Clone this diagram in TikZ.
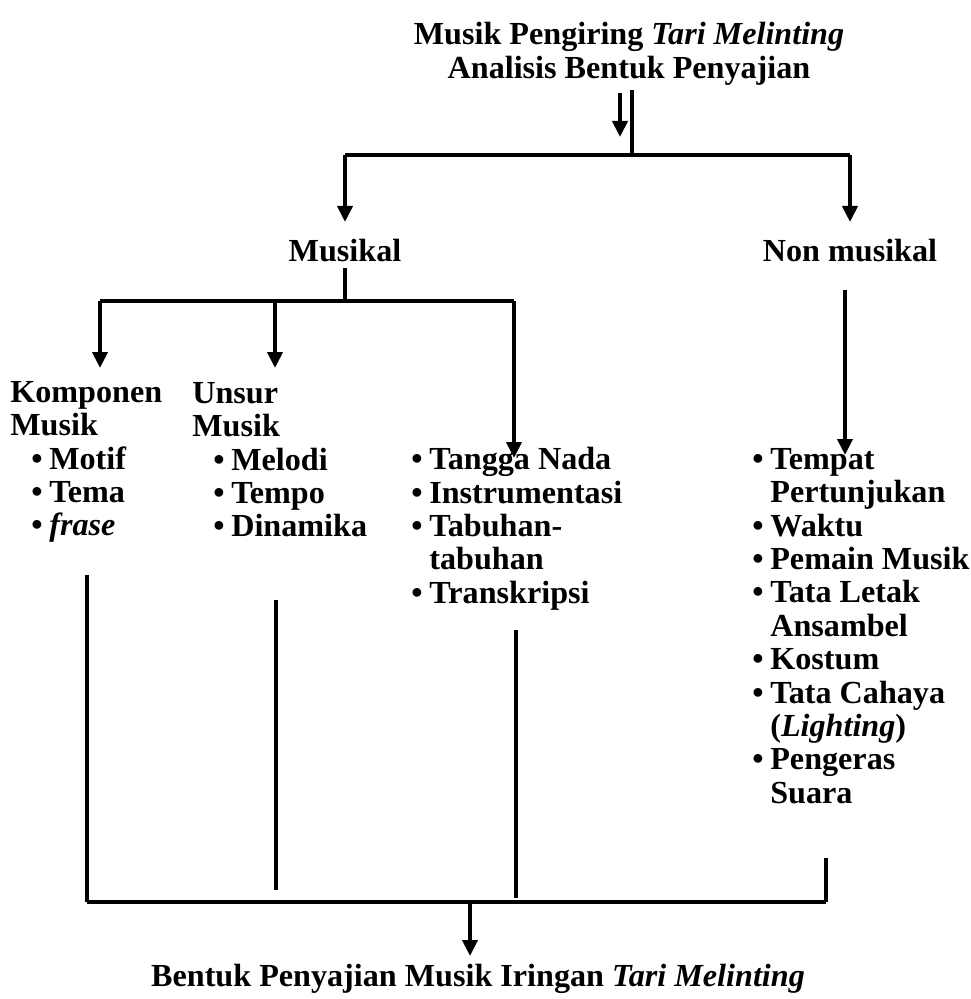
\documentclass[tikz,border=0pt]{standalone}
\usepackage{fontspec}
\setmainfont{Liberation Serif}
\usetikzlibrary{arrows.meta}

\newcommand{\butir}{\makebox[0.36cm][l]{\textbullet}}
\newcommand{\sambung}{\hspace*{0.36cm}}
\newcommand{\masuk}{\hspace*{0.42cm}}

\tikzset{
  teks/.style={inner sep=0pt, font=\fontsize{18.3}{19}\selectfont\bfseries, align=left},
  garis/.style={line width=2.2pt},
  panah/.style={garis, -{Triangle[length=0.32cm, width=0.3cm]}},
}

\begin{document}
\begin{tikzpicture}[x=0.02cm, y=-0.02cm]
  \useasboundingbox (0,0) rectangle (970,999);

  % Judul dan dua cabang utama
  \node[teks, align=center, anchor=north] (judul) at (629,22)
    {Musik Pengiring \textit{Tari Melinting}\\Analisis Bentuk Penyajian};
  \node[teks, anchor=base] (musikal) at (345,262) {Musikal};
  \node[teks, anchor=base] (nonmusikal) at (850,262) {Non musikal};

  % Kolom-kolom isi
  \node[teks, anchor=north west] (komponen) at (10,381)
    {Komponen\\Musik\\\masuk\butir Motif\\\masuk\butir Tema\\\masuk\butir\textit{frase}};
  \node[teks, anchor=north west] (unsur) at (192,382)
    {Unsur\\Musik\\\masuk\butir Melodi\\\masuk\butir Tempo\\\masuk\butir Dinamika};
  \node[teks, anchor=north west] (tangga) at (411,447)
    {\butir Tangga Nada\\\butir Instrumentasi\\\butir Tabuhan-\\\sambung tabuhan\\\butir Transkripsi};
  \node[teks, anchor=north west] (tempat) at (752,448)
    {\butir Tempat\\\sambung Pertunjukan\\\butir Waktu\\\butir Pemain Musik\\\butir Tata Letak\\\sambung Ansambel\\\butir Kostum\\\butir Tata Cahaya\\\sambung(\textit{Lighting})\\\butir Pengeras\\\sambung Suara};

  % Kesimpulan
  \node[teks, anchor=base] (akhir) at (478,986)
    {Bentuk Penyajian Musik Iringan \textit{Tari Melinting}};

  % Titik sambung garis
  \coordinate (ganda1) at (620,93);  \coordinate (ganda2) at (620,137);
  \coordinate (judulB) at (632,90);  \coordinate (cabang) at (632,155);
  \coordinate (cabKi) at (345,155);  \coordinate (cabKa) at (850,155);
  \coordinate (keMus) at (345,222);  \coordinate (keNon) at (850,222);
  \coordinate (musB) at (345,268);   \coordinate (musC) at (345,301);
  \coordinate (musKi) at (100,301);  \coordinate (musTg) at (275,301);
  \coordinate (musKa) at (514,301);
  \coordinate (keKomp) at (100,368); \coordinate (keUns) at (275,368);
  \coordinate (keTgg) at (514,458);
  \coordinate (nonA) at (845,290);   \coordinate (keTmp) at (845,455);
  \coordinate (kompB) at (87,575);   \coordinate (unsB) at (276,600);
  \coordinate (tggB) at (516,630);   \coordinate (tmpB) at (826,858);
  \coordinate (unsE) at (276,890);   \coordinate (tggE) at (516,898);
  \coordinate (bawKi) at (87,902);   \coordinate (bawKa) at (826,902);
  \coordinate (bawC) at (470,902);   \coordinate (keAkhir) at (470,956);

  % Dari judul ke Musikal / Non musikal
  \draw[panah] (ganda1) -- (ganda2);
  \draw[garis] (judulB) -- (cabang);
  \draw[garis] (cabKi) -- (cabKa);
  \draw[panah] (cabKi) -- (keMus);
  \draw[panah] (cabKa) -- (keNon);

  % Musikal ke tiga kolom
  \draw[garis] (musB) -- (musC);
  \draw[garis] (musKi) -- (musKa);
  \draw[panah] (musKi) -- (keKomp);
  \draw[panah] (musTg) -- (keUns);
  \draw[panah] (musKa) -- (keTgg);

  % Non musikal ke daftar
  \draw[panah] (nonA) -- (keTmp);

  % Semua kolom ke kesimpulan
  \draw[garis] (kompB) -- (bawKi);
  \draw[garis] (unsB) -- (unsE);
  \draw[garis] (tggB) -- (tggE);
  \draw[garis] (tmpB) -- (bawKa);
  \draw[garis] (bawKi) -- (bawKa);
  \draw[panah] (bawC) -- (keAkhir);
\end{tikzpicture}
\end{document}
